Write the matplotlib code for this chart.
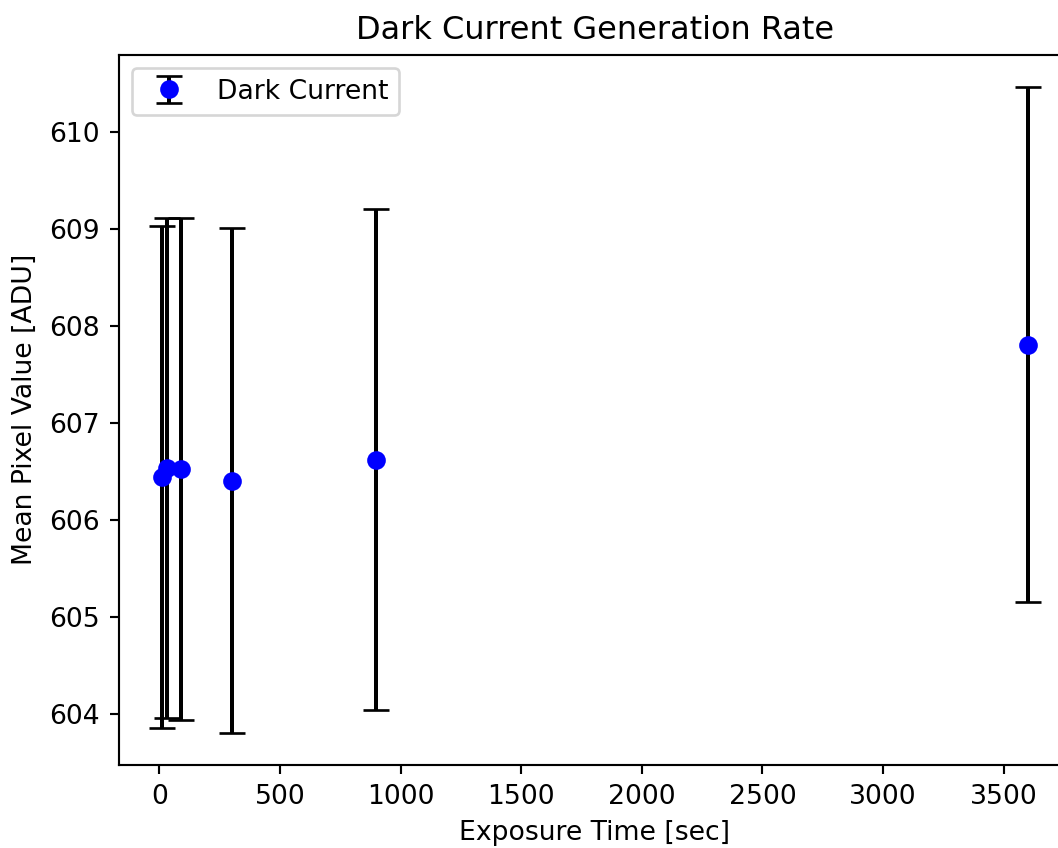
import matplotlib
matplotlib.use("Agg")
import matplotlib.pyplot as plt

exposure_time = [10, 30, 90, 300, 900, 3600]
mean_pixel = [606.445, 606.54, 606.53, 606.41, 606.625, 607.81]
pixel_std = [2.59, 2.58, 2.59, 2.60, 2.585, 2.657]

DPI = 192
fig = plt.figure(figsize=(1058 / DPI, 848 / DPI), dpi=DPI)
ax = fig.add_axes([118.5 / 1058, 83 / 848, (1071 - 118.5) / 1058, (765 - 54.7) / 848])

ax.errorbar(exposure_time, mean_pixel, yerr=pixel_std, fmt='bo', ecolor='black',
            capsize=5, label='Dark Current')
ax.set_xlabel('Exposure Time [sec]')
ax.set_ylabel('Mean Pixel Value [ADU]')
ax.set_title('Dark Current Generation Rate')
ax.legend(loc='upper left')

fig.savefig('out.png', dpi=DPI)
